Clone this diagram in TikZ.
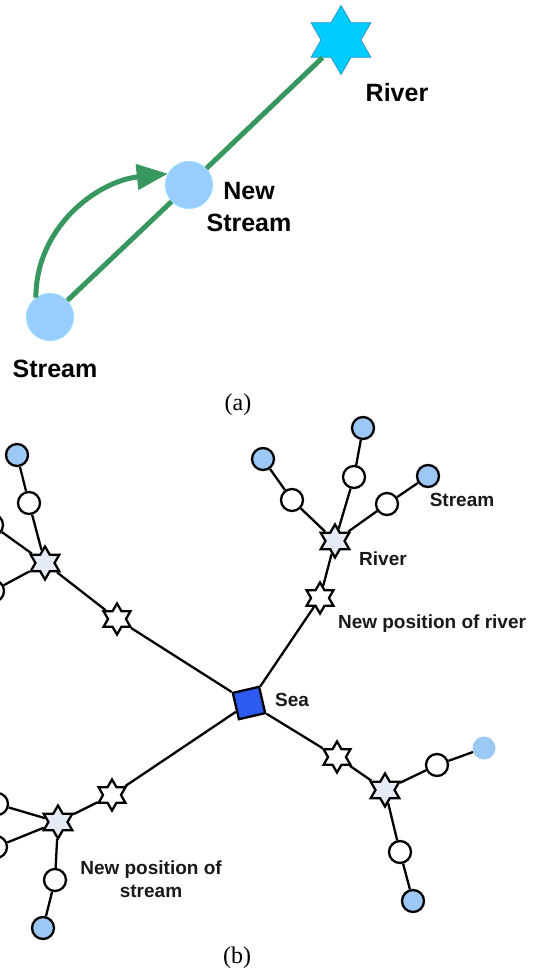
\documentclass[tikz,border=0pt]{standalone}
\usepackage{fontspec}
\setmainfont{Liberation Serif}
\newfontfamily\labfont{Liberation Sans}
\usetikzlibrary{shapes.geometric,arrows.meta}
\definecolor{grn}{RGB}{56,150,95}
\definecolor{acirc}{RGB}{153,204,255}
\definecolor{acircb}{RGB}{150,220,255}
\definecolor{rivercol}{RGB}{0,204,255}
\definecolor{riverb}{RGB}{40,150,200}
\definecolor{bcirc}{RGB}{155,200,245}
\definecolor{lstar}{RGB}{228,234,246}
\definecolor{seacol}{RGB}{45,90,240}
\begin{document}
\begin{tikzpicture}[x=1pt,y=-1pt,
  acircle/.style={circle,fill=acirc,draw=acircb,line width=1pt,minimum size=47pt,inner sep=0pt},
  bigstar/.style={star,star points=6,star point ratio=1.73,minimum size=69pt,inner sep=0pt,fill=rivercol,draw=riverb,line width=0.8pt},
  gline/.style={draw=grn,line width=5pt},
  alab/.style={font=\labfont\bfseries\fontsize{25}{32}\selectfont,inner sep=0pt,anchor=base,align=center},
  blab/.style={font=\labfont\bfseries\fontsize{19}{23}\selectfont,inner sep=0pt,anchor=base,align=center,text=black!90},
  captext/.style={font=\fontsize{24}{28}\selectfont,inner sep=0pt,anchor=base},
  bline/.style={draw=black,line width=2.3pt},
  wcirc/.style={circle,fill=white,draw=black,line width=2.3pt,minimum size=22pt,inner sep=0pt},
  bcircle/.style={circle,fill=bcirc,draw=black,line width=2.3pt,minimum size=22pt,inner sep=0pt},
  fcircle/.style={circle,fill=bcirc,minimum size=23pt,inner sep=0pt},
  lightstar/.style={star,star points=6,star point ratio=1.73,minimum size=33pt,inner sep=0pt,fill=lstar,draw=black,line width=2.3pt},
  whitestar/.style={star,star points=6,star point ratio=1.73,minimum size=31pt,inner sep=0pt,fill=white,draw=black,line width=2.3pt},
  seabox/.style={rectangle,rotate=13,minimum size=27pt,inner sep=0pt,fill=seacol,draw=black,line width=2.3pt}
]
\useasboundingbox (0,0) rectangle (544,973);
\clip (0,0) rectangle (544,973);

% ---------- (a) ----------
\node[acircle] (st) at (50,317) {};
\node[acircle] (ns) at (189,185) {};
\node[bigstar] (rv) at (341,40) {};
\draw[gline] (st) -- (ns);
\draw[gline] (ns) -- (rv);
\draw[gline,-{Triangle[length=31pt,width=25pt]}] (st.126) to[out=90,in=186] (ns.152);
\node[alab] (lrv) at (397,102) {River};
\node[alab] (lns) at (249,232) {New\\Stream};
\node[alab] (lst) at (55,377) {Stream};
\node[captext] (capa) at (238,410) {(a)};

% ---------- (b) ----------
\node[seabox] (sea) at (249,703) {};
% upper-left cluster
\node[whitestar] (ws1) at (117,619) {};
\node[lightstar] (ls1) at (45,563) {};
\node[wcirc] (wc1) at (29,503) {};
\node[bcircle] (bc1) at (17,455) {};
\node[wcirc] (pc1) at (-8,525) {};
\node[wcirc] (pc2) at (-7,591) {};
% river cluster
\node[whitestar] (ws2) at (320,598) {};
\node[lightstar] (ls2) at (335,541) {};
\node[wcirc] (wc2a) at (292,500) {};
\node[bcircle] (bc2a) at (263,459) {};
\node[wcirc] (wc2b) at (354,477) {};
\node[bcircle] (bc2b) at (363,428) {};
\node[wcirc] (wc2c) at (387,504) {};
\node[bcircle] (bc2c) at (428,476) {};
% lower-left cluster
\node[whitestar] (ws3) at (112,795) {};
\node[lightstar] (ls3) at (58,822) {};
\node[wcirc] (pc3) at (-3,804) {};
\node[wcirc] (pc4) at (-4,847) {};
\node[wcirc] (wc3) at (55,880) {};
\node[bcircle] (bc3) at (43,928) {};
% lower-right cluster
\node[whitestar] (ws4) at (337,757) {};
\node[lightstar] (ls4) at (385,790) {};
\node[wcirc] (wc4a) at (437,765) {};
\node[fcircle] (bc4a) at (484,748) {};
\node[wcirc] (wc4b) at (400,852) {};
\node[bcircle] (bc4b) at (413,901) {};

\draw[bline] (sea) -- (ws1) -- (ls1);
\draw[bline] (ls1) -- (wc1) -- (bc1);
\draw[bline] (ls1) -- (pc1);
\draw[bline] (ls1) -- (pc2);
\draw[bline] (sea) -- (ws2) -- (ls2);
\draw[bline] (ls2) -- (wc2a) -- (bc2a);
\draw[bline] (ls2) -- (wc2b) -- (bc2b);
\draw[bline] (ls2) -- (wc2c) -- (bc2c);
\draw[bline] (sea) -- (ws3) -- (ls3);
\draw[bline] (ls3) -- (pc3);
\draw[bline] (ls3) -- (pc4);
\draw[bline] (ls3) -- (wc3) -- (bc3);
\draw[bline] (sea) -- (ws4) -- (ls4);
\draw[bline] (ls4) -- (wc4a) -- (bc4a);
\draw[bline] (ls4) -- (wc4b) -- (bc4b);

\node[blab] (lstream) at (462,506) {Stream};
\node[blab] (lriver) at (383,565) {River};
\node[blab] (lnpr) at (432,628) {New position of river};
\node[blab] (lsea) at (292,706) {Sea};
\node[blab] (lnps) at (151,897) {New position of\\stream};
\node[captext] (capb) at (237,963) {(b)};
\end{tikzpicture}
\end{document}
